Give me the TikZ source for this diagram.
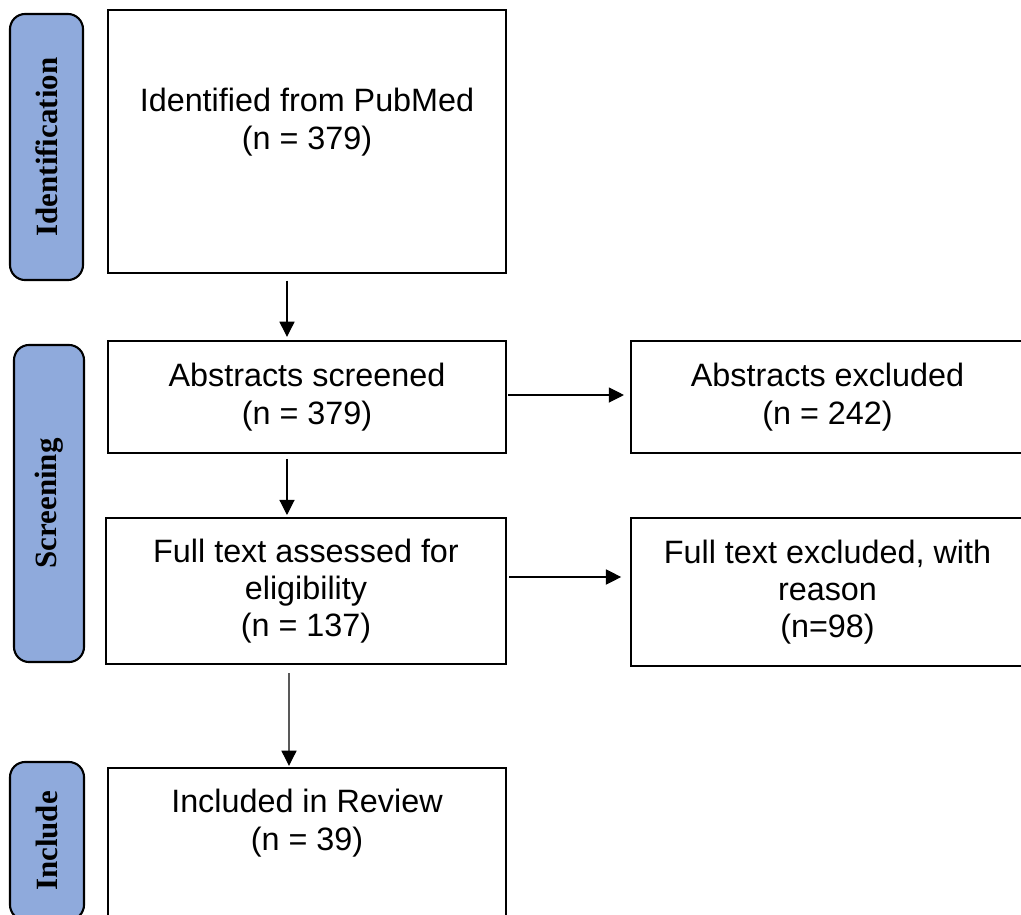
\documentclass[tikz,border=0pt]{standalone}
\usepackage{fontspec}
\setmainfont{Liberation Sans}
\newfontfamily\stagefont{Liberation Serif}
\usetikzlibrary{arrows.meta,positioning}
\definecolor{stageblue}{RGB}{143,170,220}
\tikzset{
  box/.style={draw, line width=1.4pt, minimum width=9.95cm, align=center, font=\fontsize{23}{26.5}\selectfont},
  sidebox/.style={draw, line width=1.4pt, minimum width=9.825cm, align=center, font=\fontsize{23}{26.5}\selectfont},
  boxtext/.style={align=center, inner sep=0pt, font=\fontsize{23}{26.5}\selectfont},
  stage/.style={draw, line width=1.5pt, rounded corners=0.38cm, fill=stageblue, rotate=90, inner sep=0pt, font=\stagefont\bfseries\fontsize{22}{26}\selectfont},
  line/.style={-{Triangle[length=0.38cm, width=0.38cm]}, line width=0.8pt}
}
\begin{document}
\begin{tikzpicture}[x=0.025cm, y=-0.025cm]
  \useasboundingbox (0,0) rectangle (1021,915);

  % phase bars
  \node[stage, minimum width=6.65cm, minimum height=1.825cm] (identbar) at (46.5,147) {Identification};
  \node[stage, minimum width=7.925cm, minimum height=1.75cm] (screenbar) at (49,503.5) {Screening};
  \node[stage, minimum width=3.95cm, minimum height=1.85cm] (inclbar) at (47,841) {Include};

  % boxes
  \node[box, minimum height=6.55cm] (ident) at (307,141.5) {};
  \node[boxtext] (identtxt) at (307,122) {Identified from PubMed\\(n = 379)};
  \node[box, minimum height=2.8cm] (screen) at (307,397) {Abstracts screened\\(n = 379)};
  \node[sidebox, minimum height=2.8cm] (absexcl) at (827.5,397) {Abstracts excluded\\(n = 242)};
  \node[box, minimum width=10cm, minimum height=3.65cm] (fulltext) at (306,591) {Full text assessed for\\eligibility\\(n = 137)};
  \node[sidebox, minimum height=3.7cm] (fullexcl) at (827.5,592) {Full text excluded, with\\reason\\(n=98)};
  \node[box, minimum height=5.8cm] (incl) at (307,884) {};
  \node[boxtext] (incltxt) at (307,823) {Included in Review\\(n = 39)};

  \draw[line] ([xshift=-0.5cm, yshift=-0.18cm]ident.south) -- ([xshift=-0.5cm, yshift=0.08cm]screen.north);
  \draw[line] ([xshift=0.03cm, yshift=0.05cm]screen.east) -- ([xshift=-0.15cm, yshift=0.05cm]absexcl.west);
  \draw[line] ([xshift=-0.5cm, yshift=-0.12cm]screen.south) -- ([xshift=-0.475cm, yshift=0.05cm]fulltext.north);
  \draw[line] ([xshift=0.05cm, yshift=0.35cm]fulltext.east) -- ([xshift=-0.22cm, yshift=0.375cm]fullexcl.west);
  \draw[line] ([xshift=-0.425cm, yshift=-0.2cm]fulltext.south) -- ([xshift=-0.45cm, yshift=0.03cm]incl.north);
\end{tikzpicture}
\end{document}
